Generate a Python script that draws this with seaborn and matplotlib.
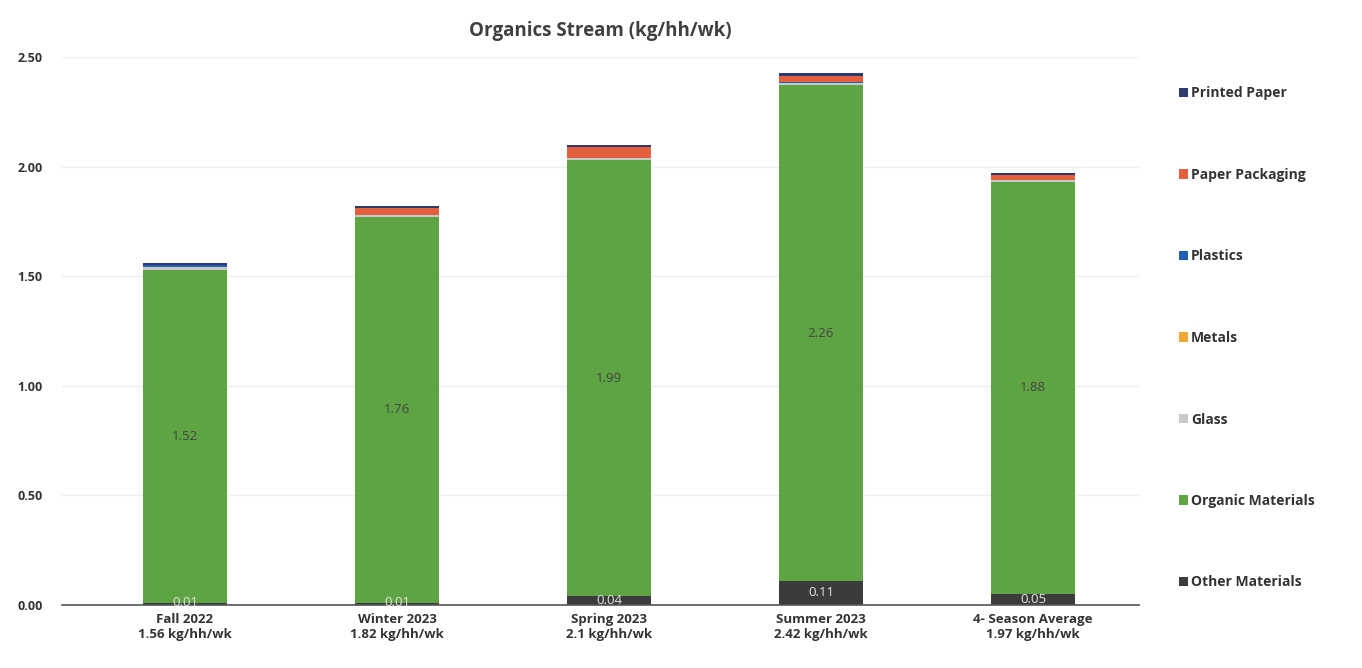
import numpy as np
import pandas as pd
import matplotlib
matplotlib.use("Agg")
import matplotlib.pyplot as plt
from matplotlib.patches import Patch
import seaborn as sns

# Seasonal composition of the organics stream, kg per household per week
seasons = ["Fall 2022", "Winter 2023", "Spring 2023", "Summer 2023", "4- Season Average"]
season_totals = ["1.56", "1.82", "2.1", "2.42", "1.97"]
other_materials = [0.01, 0.01, 0.04, 0.11, 0.05]
organic_materials = [1.52, 1.76, 1.99, 2.26, 1.88]
glass = [0.01, 0.01, 0.01, 0.01, 0.01]
metals = [0.0, 0.0, 0.0, 0.0, 0.0]
plastics = [0.01, 0.0, 0.0, 0.005, 0.0]
paper_packaging = [0.0, 0.03, 0.05, 0.03, 0.02]
printed_paper = [0.01, 0.01, 0.01, 0.01, 0.01]

materials = ["Other Materials", "Organic Materials", "Glass", "Metals",
             "Plastics", "Paper Packaging", "Printed Paper"]
colors = ["#3b3b3d", "#5fa443", "#c9c9c9", "#f0a830",
          "#1f5fb4", "#e2603d", "#2d3a6e"]
layers = [other_materials, organic_materials, glass, metals,
          plastics, paper_packaging, printed_paper]

sns.set_theme(style="white")
plt.rcParams["font.family"] = ["Open Sans", "DejaVu Sans"]

fig = plt.figure(figsize=(13.62, 6.68), dpi=100)
ax = fig.add_axes([62 / 1362, 63 / 668, (1139 - 62) / 1362, (605 - 57) / 668])

labels = [f"{s}\n{t} kg/hh/wk" for s, t in zip(seasons, season_totals)]
cum = np.cumsum(np.array(layers, dtype=float), axis=0)

# Draw cumulative heights from the top layer down so each segment shows its own slice
for i in range(len(materials) - 1, -1, -1):
    df = pd.DataFrame({"season": labels, "value": cum[i]})
    sns.barplot(data=df, x="season", y="value", color=colors[i], width=0.4,
                saturation=1, ax=ax, linewidth=0, zorder=3)

# Value labels for the two main layers
for j in range(len(seasons)):
    ax.text(j, other_materials[j] + organic_materials[j] / 2, f"{organic_materials[j]:.2f}",
            ha="center", va="center", fontsize=9.5, color="#444444", zorder=5)
    ax.text(j, max(other_materials[j] / 2, 0.012), f"{other_materials[j]:.2f}",
            ha="center", va="center", fontsize=9.5, color="#e6e6e6", zorder=5)

ax.set_xlim(-0.58, 4.5)
ax.set_ylim(0, 2.5)
ax.set_yticks(np.arange(0, 2.51, 0.5))
ax.set_yticklabels([f"{v:.2f}" for v in np.arange(0, 2.51, 0.5)])
ax.yaxis.grid(True, color="#eeeeee", linewidth=1, zorder=0)
ax.set_xlabel("")
ax.set_ylabel("")
for side in ["top", "right", "left"]:
    ax.spines[side].set_visible(False)
ax.spines["bottom"].set_color("#555555")
ax.spines["bottom"].set_linewidth(1.2)
ax.spines["bottom"].set_zorder(4)

ax.tick_params(axis="y", length=0, pad=14, labelsize=9, labelcolor="#333333")
ax.tick_params(axis="x", length=0, pad=6, labelsize=9.5, labelcolor="#333333")
for lab in ax.get_xticklabels() + ax.get_yticklabels():
    lab.set_fontweight("bold")

# Small ticks between categories
ax.set_xticks([0.5, 1.5, 2.5, 3.5], minor=True)
ax.tick_params(axis="x", which="minor", length=5, width=1, color="#777777", direction="in")

ax.set_title("Organics Stream (kg/hh/wk)", fontsize=13.5, fontweight="bold",
             color="#404040", pad=15)

handles = [Patch(facecolor=c, edgecolor="none") for c in colors[::-1]]
leg = fig.legend(handles, materials[::-1], loc="upper left",
                 bbox_to_anchor=(1166 / 1362, 1 - 74 / 668), frameon=False,
                 handlelength=0.65, handleheight=0.65, handletextpad=0.25,
                 labelspacing=4.86, fontsize=10)
for t in leg.get_texts():
    t.set_fontweight("bold")
    t.set_color("#333333")

fig.savefig("out.png", dpi=100, facecolor="white")
